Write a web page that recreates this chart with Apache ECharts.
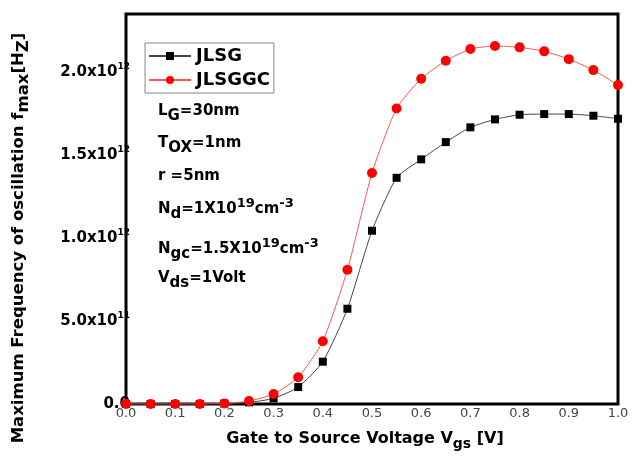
<!DOCTYPE html>
<html lang="en">
<head>
    <meta charset="UTF-8">
    <title>fmax vs Vgs</title>
    <script src="https://cdn.jsdelivr.net/npm/echarts@6/dist/echarts.min.js"></script>
    <style>
        body { margin: 0; background: #fff; }
    </style>
</head>
<body>
<div id="main" style="width:637px;height:457px;"></div>
<script type="text/javascript">
    // gate voltage points and fmax values (units of 1e12 Hz)
    var vgs = [0, 0.05, 0.1, 0.15, 0.2, 0.25, 0.3, 0.35, 0.4, 0.45, 0.5,
               0.55, 0.6, 0.65, 0.7, 0.75, 0.8, 0.85, 0.9, 0.95, 1.0];
    var jlsg = [0, 0, 0, 0, 0.003, 0.01, 0.034, 0.102, 0.255, 0.574, 1.044,
                1.363, 1.474, 1.578, 1.667, 1.715, 1.743, 1.747, 1.747, 1.737, 1.719];
    var jlsggc = [0, 0, 0, 0, 0.003, 0.018, 0.06, 0.161, 0.378, 0.809, 1.392,
                  1.781, 1.96, 2.068, 2.139, 2.157, 2.149, 2.125, 2.078, 2.012, 1.922];
    var yTicks = {
        0: ['0.0', ''],
        5e11: ['5.0x10', '11'],
        1e12: ['1.0x10', '12'],
        1.5e12: ['1.5x10', '12'],
        2e12: ['2.0x10', '12']
    };

    function pairs(ys) {
        var out = [];
        for (var i = 0; i < vgs.length; i++) {
            out.push([vgs[i], ys[i] * 1e12]);
        }
        return out;
    }

    var FONT = 'DejaVu Sans';
    var base = {fontFamily: FONT, fontWeight: 'bold', fontSize: 15, fill: '#000'};
    var sub = {fontFamily: FONT, fontWeight: 'bold', fontSize: 15, fill: '#000', padding: [10, 0, 0, 0]};
    var sup = {fontFamily: FONT, fontWeight: 'bold', fontSize: 13, fill: '#000', padding: [0, 0, 12, 0]};
    var noteRich = {b: base, s: sub, p: sup};

    function note(y, text) {
        return {
            type: 'text', left: 158, top: y,
            style: {text: text, rich: noteRich,
                    fontFamily: FONT, fontWeight: 'bold', fontSize: 15}
        };
    }

    var myChart = echarts.init(document.getElementById('main'));
    var option = {
        animation: false,
        grid: {
            left: 126, right: 19, top: 14, bottom: 53,
            show: true, borderColor: '#000', borderWidth: 3
        },
        legend: {
            left: 145, top: 43, orient: 'vertical',
            itemWidth: 42, itemHeight: 10, itemGap: 6,
            padding: [4, 4, 4, 3],
            borderColor: '#888', borderWidth: 1,
            textStyle: {fontFamily: FONT, fontWeight: 'bold', fontSize: 18, color: '#000'},
            data: ['JLSG', 'JLSGGC']
        },
        xAxis: {
            type: 'value', min: 0, max: 1, interval: 0.1,
            axisLine: {show: false},
            axisTick: {show: false},
            splitLine: {show: false},
            axisLabel: {
                margin: 3, color: '#444', fontFamily: FONT, fontSize: 13,
                formatter: function (v) { return v.toFixed(1); }
            }
        },
        yAxis: {
            type: 'value', min: 0, max: 2.35e12, interval: 5e11,
            axisLine: {show: false},
            axisTick: {show: false},
            splitLine: {show: false},
            axisLabel: {
                margin: -4,
                formatter: function (v) {
                    var t = yTicks[v];
                    if (!t) return '';
                    return '{m|' + t[0] + '}' + (t[1] ? '{s|' + t[1] + '}' : '');
                },
                rich: {
                    m: {fontFamily: FONT, fontWeight: 'bold', fontSize: 15, color: '#000'},
                    s: {fontFamily: FONT, fontWeight: 'bold', fontSize: 9, color: '#000', padding: [0, 0, 11, 0]}
                }
            }
        },
        series: [{
            name: 'JLSG', type: 'line', smooth: 0.2,
            symbol: 'rect', symbolSize: 8,
            lineStyle: {color: '#444', width: 1},
            itemStyle: {color: '#000'},
            data: pairs(jlsg)
        }, {
            name: 'JLSGGC', type: 'line', smooth: 0.2,
            symbol: 'circle', symbolSize: 10,
            lineStyle: {color: '#ff5555', width: 1},
            itemStyle: {color: '#ff0000'},
            data: pairs(jlsggc)
        }],
        graphic: [
            note(104, '{b|L}{s|G}{b|=30nm}'),
            note(136, '{b|T}{s|OX}{b|=1nm}'),
            note(169, '{b|r =5nm}'),
            note(197, '{b|N}{s|d}{b|=1X10}{p|19}{b|cm}{p|-3}'),
            note(237, '{b|N}{s|gc}{b|=1.5X10}{p|19}{b|cm}{p|-3}'),
            note(271, '{b|V}{s|ds}{b|=1Volt}'),
            {
                type: 'text', x: 19, y: 238, rotation: Math.PI / 2,
                style: {
                    text: '{b|Maximum Frequency of oscillation f}{s|max}{b|[H}{s|Z}{b|]}',
                    align: 'center', verticalAlign: 'middle',
                    rich: {
                        b: {fontFamily: FONT, fontWeight: 'bold', fontSize: 16.5, fill: '#000'},
                        s: {fontFamily: FONT, fontWeight: 'bold', fontSize: 16.5, fill: '#000', padding: [10, 0, 0, 0]}
                    }
                }
            },
            {
                type: 'text', x: 365, y: 439,
                style: {
                    text: '{b|Gate to Source Voltage V}{s|gs}{b| [V]}',
                    align: 'center', verticalAlign: 'middle',
                    rich: {
                        b: {fontFamily: FONT, fontWeight: 'bold', fontSize: 16, fill: '#000'},
                        s: {fontFamily: FONT, fontWeight: 'bold', fontSize: 14, fill: '#000', padding: [10, 0, 0, 0]}
                    }
                }
            }
        ]
    };
    myChart.setOption(option);
</script>
</body>
</html>
